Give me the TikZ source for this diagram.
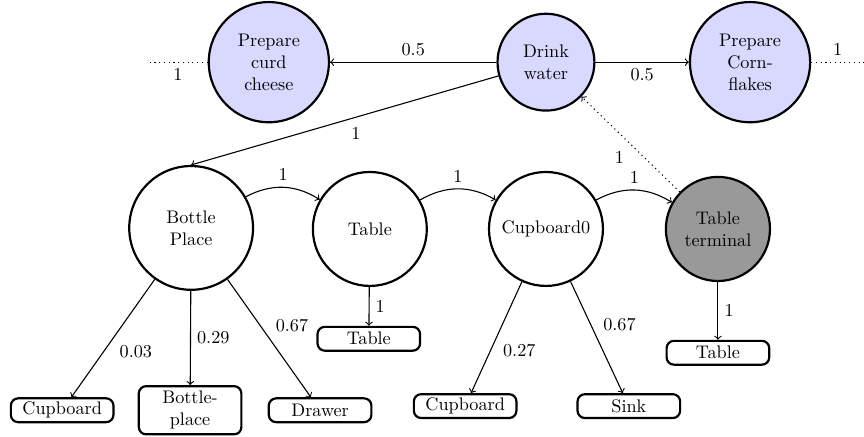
\documentclass[tikz,border=0pt]{standalone}
\usetikzlibrary{arrows}
\begin{document}
\begin{tikzpicture}[
  semithick,
  state/.style={circle, draw, very thick, align=center, inner sep=1pt},
  task/.style={state, fill=blue!15},
  terminal/.style={state, fill=black!40},
  place/.style={draw, very thick, rounded corners=4pt, align=center, minimum width=1.98cm, minimum height=0.46cm, inner sep=1pt}
]
% Fix the page size
\useasboundingbox (0, 0) rectangle (16.68, -8.42);

% Tasks on the top row
\node[task, minimum size=2.32cm] (curd) at (5.19, -1.20) {Prepare\\curd\\cheese};
\node[task, minimum size=1.87cm] (drink) at (10.54, -1.20) {Drink\\water};
\node[task, minimum size=2.32cm] (corn) at (14.48, -1.20) {Prepare\\Corn-\\flakes};
\coordinate (leftend) at (2.86, -1.20);
\coordinate (rightend) at (16.68, -1.20);

% Locations in the middle row
\node[state, minimum size=2.39cm] (bottle) at (3.69, -4.40) {Bottle\\Place};
\node[state, minimum size=2.20cm] (table) at (7.14, -4.42) {Table};
\node[state, minimum size=2.20cm] (cupboard) at (10.54, -4.42) {Cupboard0};
\node[terminal, minimum size=2.01cm] (term) at (13.86, -4.42) {Table\\terminal};

% Places at the bottom
\node[place] (cupA) at (1.20, -7.92) {Cupboard};
\node[place, minimum height=0.93cm] (bplace) at (3.67, -7.92) {Bottle-\\place};
\node[place] (drawer) at (6.18, -7.92) {Drawer};
\node[place] (tableA) at (7.12, -6.54) {Table};
\node[place] (cupB) at (8.98, -7.84) {Cupboard};
\node[place] (sink) at (12.14, -7.84) {Sink};
\node[place] (tableB) at (13.86, -6.81) {Table};

% Edges between tasks
\draw[dotted] (curd) -- (leftend) node[midway, below] {1};
\draw[dotted] (corn) -- (rightend) node[midway, above] {1};
\draw[->] (drink) -- (curd) node[midway, above] {0.5};
\draw[->] (drink) -- (corn) node[midway, below] {0.5};
\draw[->] (drink) -- (bottle.north) node[midway, below right] {1};
\draw[->, dotted] (term) -- (drink) node[midway, below left] {1};

% Edges between locations
\draw[->] (bottle) to[bend left] node[above] {1} (table);
\draw[->] (table) to[bend left] node[above] {1} (cupboard);
\draw[->] (cupboard) to[bend left] node[above] {1} (term);

% Edges to places
\draw[->] (bottle) -- (cupA) node[midway, below right] {0.03};
\draw[->] (bottle) -- (bplace) node[midway, right] {0.29};
\draw[->] (bottle) -- (drawer) node[midway, above right] {0.67};
\draw[->] (table) -- (tableA) node[midway, right] {1};
\draw[->] (cupboard) -- (cupB) node[midway, below right] {0.27};
\draw[->] (cupboard) -- (sink) node[midway, above right] {0.67};
\draw[->] (term) -- (tableB) node[midway, right] {1};
\end{tikzpicture}
\end{document}
